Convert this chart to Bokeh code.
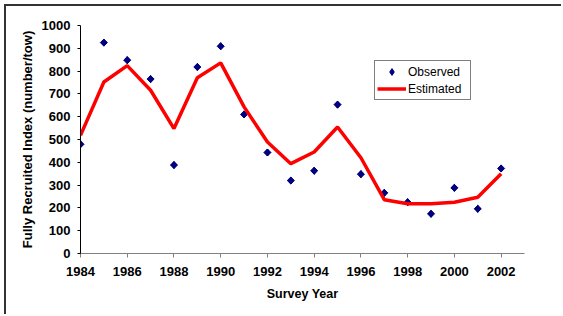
import numpy as np
from bokeh.plotting import figure
from bokeh.models import FixedTicker, Range1d, Legend, LegendItem
from bokeh.embed import file_html
from bokeh.resources import INLINE

years = list(range(1984, 2003))
observed = [479, 925, 848, 765, 388, 818, 909, 610, 443, 320, 363, 653, 348, 266, 225, 174, 288, 196, 373]
estimated = [518, 752, 824, 716, 548, 771, 836, 643, 489, 394, 445, 555, 420, 236, 218, 218, 225, 247, 350]
x_ticks = list(range(1984, 2003, 2))
y_ticks = list(range(0, 1001, 100))

FONT = "Liberation Sans"

p = figure(
    output_backend="svg", toolbar_location=None,
    frame_width=444, frame_height=228,
    min_border_left=74, min_border_top=19, min_border_right=37, min_border_bottom=61,
    x_range=Range1d(1984, 2003), y_range=Range1d(0, 1000),
    styles={"margin-left": "4px", "margin-top": "4px",
            "border-left": "2px solid #333333", "border-top": "2px solid #333333"},
)
p.outline_line_color = None
p.grid.visible = False
p.background_fill_color = "white"
p.border_fill_color = "white"

r_leg = p.scatter(years, observed, marker="diamond", size=7,
                  fill_color="#000080", line_color="#000080")
r_obs = p.scatter(years, observed, marker="square", angle=np.pi / 4, size=5,
                  fill_color="#000080", line_color="#000080")
r_est = p.line(years, estimated, line_color="#FF0000", line_width=3.5)

xa = p.xaxis[0]
xa.ticker = FixedTicker(ticks=x_ticks)
xa.minor_tick_line_color = None
xa.major_tick_in = 0
xa.major_tick_out = 4
xa.axis_line_color = "#808080"
xa.major_tick_line_color = "#808080"
xa.major_label_text_font = FONT
xa.major_label_text_font_style = "bold"
xa.major_label_text_font_size = "13px"
xa.major_label_text_color = "black"
xa.major_label_standoff = 9
xa.axis_label = "Survey Year"
xa.axis_label_text_font = FONT
xa.axis_label_text_font_style = "bold"
xa.axis_label_text_font_size = "12.5px"
xa.axis_label_text_color = "black"
xa.axis_label_standoff = 8

ya = p.yaxis[0]
ya.ticker = FixedTicker(ticks=y_ticks)
ya.minor_tick_line_color = None
ya.major_tick_in = 0
ya.major_tick_out = 3
ya.axis_line_color = "black"
ya.major_tick_line_color = "black"
ya.major_label_text_font = FONT
ya.major_label_text_font_style = "bold"
ya.major_label_text_font_size = "13px"
ya.major_label_text_color = "black"
ya.major_label_standoff = 7
ya.axis_label = "Fully Recruited Index (number/tow)"
ya.axis_label_text_font = FONT
ya.axis_label_text_font_style = "bold"
ya.axis_label_text_font_size = "13px"
ya.axis_label_text_color = "black"
ya.axis_label_standoff = 4

legend = Legend(
    items=[LegendItem(label="Observed", renderers=[r_leg]),
           LegendItem(label="Estimated", renderers=[r_est])],
    location=(294, 153),
    border_line_color="black", border_line_width=1,
    background_fill_color="white", background_fill_alpha=1,
    label_text_font=FONT, label_text_font_size="12px", label_text_color="black",
    glyph_width=29, glyph_height=17, label_height=17, label_standoff=2,
    label_width=60, spacing=0, padding=2, margin=0,
)
p.add_layout(legend, "center")

open("out.html", "w").write(file_html(p, INLINE))
